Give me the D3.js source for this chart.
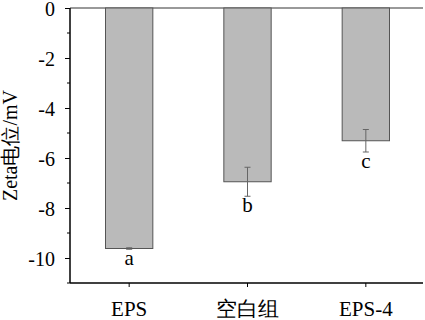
<!DOCTYPE html>
<html>
<head>
<meta charset="utf-8">
<script src="https://cdn.jsdelivr.net/npm/d3@7"></script>
<style>
body { margin: 0; background: #fff; }
svg { display: block; }
</style>
</head>
<body>
<svg id="chart"></svg>
<script>
const categories = ["EPS", "空白组", "EPS-4"];
const zetaValues = [-9.62, -6.95, -5.31];
const zetaErrors = [0.03, 0.58, 0.45];
const letters = ["a", "b", "c"];
const yTicks = [0, -2, -4, -6, -8, -10];
const yMinorTicks = [-1, -3, -5, -7, -9, -11];

const width = 425, height = 320;
const margin = { top: 8, right: 0, bottom: 37, left: 70 };
const fontFamily = "'Liberation Serif', 'Times New Roman', serif";

const svg = d3.select("#chart")
    .attr("width", width)
    .attr("height", height);

const x = d3.scaleBand()
    .domain(categories)
    .range([margin.left, width])
    .paddingInner(0.6)
    .paddingOuter(0.3);

const y = d3.scaleLinear()
    .domain([-11, 0])
    .range([height - margin.bottom, margin.top]);

const data = categories.map((c, i) => ({
    name: c, value: zetaValues[i], err: zetaErrors[i], letter: letters[i]
}));

// top line at zero
svg.append("line")
    .attr("x1", margin.left).attr("x2", width - 2)
    .attr("y1", y(0)).attr("y2", y(0))
    .attr("stroke", "#777").attr("stroke-width", 1.5);

// bars
svg.selectAll(".bar")
    .data(data)
    .join("rect")
    .attr("class", "bar")
    .attr("x", d => x(d.name))
    .attr("width", x.bandwidth())
    .attr("y", y(0))
    .attr("height", d => y(d.value) - y(0))
    .attr("fill", "#bababa")
    .attr("stroke", "#555")
    .attr("stroke-width", 1);

// error bars
const eb = svg.selectAll(".err")
    .data(data)
    .join("g")
    .attr("class", "err")
    .attr("stroke", "#666")
    .attr("stroke-width", 1);
eb.append("line")
    .attr("x1", d => x(d.name) + x.bandwidth() / 2)
    .attr("x2", d => x(d.name) + x.bandwidth() / 2)
    .attr("y1", d => y(d.value + d.err))
    .attr("y2", d => y(d.value - d.err));
[1, -1].forEach(s => {
    eb.append("line")
        .attr("x1", d => x(d.name) + x.bandwidth() / 2 - 3)
        .attr("x2", d => x(d.name) + x.bandwidth() / 2 + 3)
        .attr("y1", d => y(d.value + s * d.err))
        .attr("y2", d => y(d.value + s * d.err));
});

// significance letters
svg.selectAll(".letter")
    .data(data)
    .join("text")
    .attr("class", "letter")
    .attr("x", d => x(d.name) + x.bandwidth() / 2)
    .attr("y", d => y(d.value - d.err) + 16)
    .attr("text-anchor", "middle")
    .attr("font-family", fontFamily)
    .attr("font-size", "21px")
    .text(d => d.letter);

// y axis
const yAxis = svg.append("g")
    .attr("transform", `translate(${margin.left},0)`)
    .call(d3.axisLeft(y).tickValues(yTicks).tickSize(5).tickPadding(10).tickFormat(d3.format("d")));
yAxis.append("g")
    .selectAll("line")
    .data(yMinorTicks)
    .join("line")
    .attr("x1", -3).attr("x2", 0)
    .attr("y1", d => y(d)).attr("y2", d => y(d))
    .attr("stroke", "#000");
yAxis.select(".domain").attr("stroke-width", 1.5).attr("d", `M0,${y(0)}V${y(-11)}`);
yAxis.selectAll("text")
    .attr("font-family", fontFamily)
    .attr("font-size", "20px")
    .attr("fill", "#000")
    .attr("dy", "0.38em")
    .text(d => d === 0 ? "0" : "-" + Math.abs(d));

// x axis
const xAxis = svg.append("g")
    .attr("transform", `translate(0,${y(-11)})`)
    .call(d3.axisBottom(x).tickSize(4).tickPadding(14));
xAxis.select(".domain").attr("stroke-width", 1.5).attr("d", `M${margin.left},0H${width - 2}`);
xAxis.selectAll("text")
    .attr("font-family", fontFamily)
    .attr("font-size", "21px")
    .attr("fill", "#000");

// y label
svg.append("text")
    .attr("transform", `translate(17,${(y(0) + y(-11)) / 2}) rotate(-90)`)
    .attr("text-anchor", "middle")
    .attr("font-family", fontFamily)
    .attr("font-size", "20px")
    .text("Zeta电位/mV");
</script>
</body>
</html>
